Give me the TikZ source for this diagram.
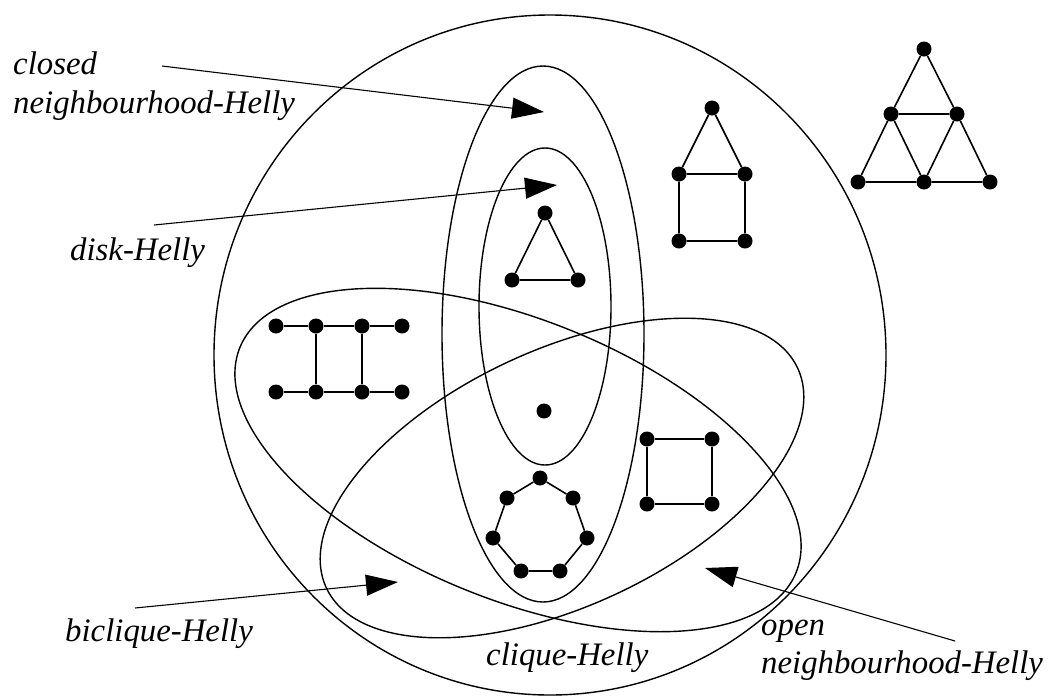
\documentclass[tikz,border=0pt]{standalone}
\usepackage{fontspec}
\setmainfont{Liberation Serif}
\usetikzlibrary{arrows.meta}
\begin{document}
\begin{tikzpicture}[x=1pt,y=-1pt,
  vtx/.style={circle,fill=black,inner sep=0pt,minimum size=15pt},
  gedge/.style={line width=1.6pt},
  region/.style={line width=1.4pt},
  pointer/.style={line width=1.1pt,-{Triangle[length=32pt,width=21pt]}},
  lbl/.style={font=\fontsize{32.8}{39.4}\selectfont\itshape, inner sep=0pt, anchor=base west}]
\useasboundingbox (0,0) rectangle (1053,697);

% regions
\draw[region] (550,355) ellipse [x radius=336pt, y radius=340pt];
\draw[region] (543,334) ellipse [x radius=101pt, y radius=268pt];
\draw[region] (545,306.5) ellipse [x radius=66pt, y radius=158.5pt];
\draw[region, rotate around={-22:(518,460)}] (518,460) ellipse [x radius=300pt, y radius=140pt];
\draw[region, rotate around={25:(562,478)}] (562,478) ellipse [x radius=260pt, y radius=128pt];

% subdivided triangle
\node[vtx] (t1) at (924,49) {};
\node[vtx] (t2) at (891,114) {};
\node[vtx] (t3) at (957,114) {};
\node[vtx] (t4) at (858,182) {};
\node[vtx] (t5) at (924,182) {};
\node[vtx] (t6) at (990,182) {};
\draw[gedge] (t1)--(t2) (t1)--(t3) (t2)--(t3) (t2)--(t4) (t2)--(t5) (t3)--(t5) (t3)--(t6) (t4)--(t5) (t5)--(t6);

% house
\node[vtx] (h1) at (712,108) {};
\node[vtx] (h2) at (679,174) {};
\node[vtx] (h3) at (745,174) {};
\node[vtx] (h4) at (679,241) {};
\node[vtx] (h5) at (745,241) {};
\draw[gedge] (h1)--(h2) (h1)--(h3) (h2)--(h3) (h2)--(h4) (h3)--(h5) (h4)--(h5);

% triangle
\node[vtx] (k1) at (545,213) {};
\node[vtx] (k2) at (512,280) {};
\node[vtx] (k3) at (578,280) {};
\draw[gedge] (k1)--(k2) (k2)--(k3) (k3)--(k1);

% single vertex
\node[vtx] (d1) at (544,411) {};

% ladder
\node[vtx] (l1) at (276,326) {};
\node[vtx] (l2) at (316,326) {};
\node[vtx] (l3) at (362,326) {};
\node[vtx] (l4) at (402,326) {};
\node[vtx] (b1) at (276,392) {};
\node[vtx] (b2) at (316,392) {};
\node[vtx] (b3) at (362,392) {};
\node[vtx] (b4) at (402,392) {};
\draw[gedge] (l1)--(l2) (l2)--(l3) (l3)--(l4) (b1)--(b2) (b2)--(b3) (b3)--(b4) (l2)--(b2) (l3)--(b3);

% 7-cycle
\node[vtx] (c1) at (540,478) {};
\node[vtx] (c2) at (573,498) {};
\node[vtx] (c3) at (587,538) {};
\node[vtx] (c4) at (560,571) {};
\node[vtx] (c5) at (521,571) {};
\node[vtx] (c6) at (493,538) {};
\node[vtx] (c7) at (507,498) {};
\draw[gedge] (c1)--(c2) (c2)--(c3) (c3)--(c4) (c4)--(c5) (c5)--(c6) (c6)--(c7) (c7)--(c1);

% square
\node[vtx] (s1) at (647,439) {};
\node[vtx] (s2) at (712,439) {};
\node[vtx] (s3) at (712,504) {};
\node[vtx] (s4) at (647,504) {};
\draw[gedge] (s1)--(s2) (s2)--(s3) (s3)--(s4) (s4)--(s1);

% labels
\node[lbl] (lclosed1) at (13,74) {closed};
\node[lbl] (lclosed2) at (13,113) {neighbourhood-Helly};
\node[lbl] (ldisk) at (70,260) {disk-Helly};
\node[lbl] (lbic) at (65,641) {biclique-Helly};
\node[lbl] (lcli) at (486,665) {clique-Helly};
\node[lbl] (lopen1) at (761,635) {open};
\node[lbl] (lopen2) at (761,673) {neighbourhood-Helly};

% pointers
\coordinate (pc0) at (162,66);  \coordinate (pc1) at (544,112);
\coordinate (pd0) at (154,225); \coordinate (pd1) at (557,185);
\coordinate (pb0) at (135,608); \coordinate (pb1) at (398,582);
\coordinate (po0) at (955,641); \coordinate (po1) at (705,568);
\draw[pointer] (pc0) -- (pc1);
\draw[pointer] (pd0) -- (pd1);
\draw[pointer] (pb0) -- (pb1);
\draw[pointer] (po0) -- (po1);
\end{tikzpicture}
\end{document}
